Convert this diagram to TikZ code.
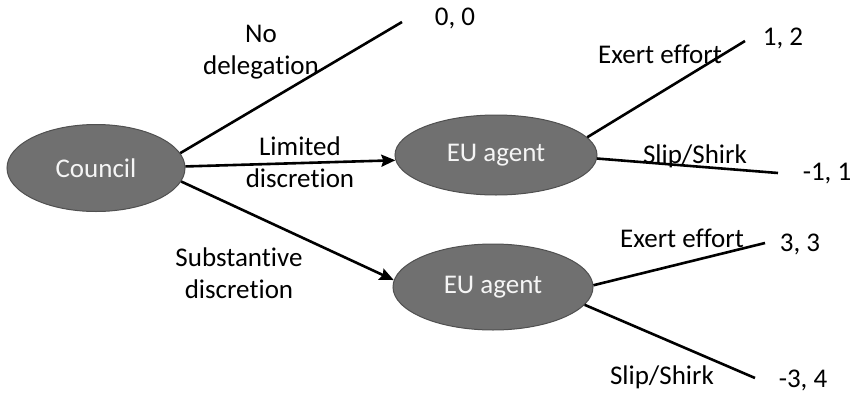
\documentclass[tikz,border=0pt]{standalone}
\usepackage{fontspec}
\setmainfont{Carlito}[Ligatures=NoCommon]
\usetikzlibrary{shapes.geometric,arrows.meta}
\definecolor{nodefill}{RGB}{112,112,112}
\definecolor{nodeline}{RGB}{80,80,80}
\definecolor{nodetext}{RGB}{245,245,245}
\begin{document}
\begin{tikzpicture}[x=1pt,y=-1pt,
  player/.style={ellipse,draw=nodeline,fill=nodefill,line width=1pt,inner sep=0pt,
    text=nodetext,font=\fontsize{27}{32}\selectfont},
  lbl/.style={align=center,inner sep=0pt,font=\fontsize{27}{32}\selectfont,text=black},
  branch/.style={line width=2.6pt,draw=black},
  move/.style={branch,-{Stealth[length=14pt,width=12pt,inset=2pt]}}]
\useasboundingbox[fill=white] (0,0) rectangle (855,394);
% players
\node[player,minimum width=178pt,minimum height=87pt] (council) at (96,168) {Council};
\node[player,minimum width=202pt,minimum height=80pt] (eu1) at (496,155) {EU agent};
\node[player,minimum width=200pt,minimum height=86pt] (eu2) at (493,287) {EU agent};
% terminal points
\coordinate (nd) at (402,22);
\coordinate (e1) at (745,41);
\coordinate (s1) at (778,173);
\coordinate (e2) at (765,243);
\coordinate (s2) at (755,378);
% branches
\draw[branch] (council.10) -- (nd);
\draw[move] (council.1) -- (eu1.183);
\draw[move] (council.-9) -- (eu2.176);
\draw[branch] (eu1.11) -- (e1);
\draw[branch] (eu1.-2) -- (s1);
\draw[branch] (eu2.1) -- (e2);
\draw[branch] (eu2.-11) -- (s2);
% move labels
\node[lbl] (lnd) at (261,52) {No\\delegation};
\node[lbl] (llim) at (300,162) {Limited\\discretion};
\node[lbl] (lsub) at (239,273) {Substantive\\discretion};
\node[lbl] (le1) at (660,54) {Exert effort};
\node[lbl] (ls1) at (695,156) {Slip/Shirk};
\node[lbl] (le2) at (682,238) {Exert effort};
\node[lbl] (ls2) at (662,377) {Slip/Shirk};
% payoffs
\node[lbl] (p0) at (455,18) {0, 0};
\node[lbl] (p1) at (783,38) {1, 2};
\node[lbl] (p2) at (827,174) {-1, 1};
\node[lbl] (p3) at (800,244) {3, 3};
\node[lbl] (p4) at (803,380) {-3, 4};
\end{tikzpicture}
\end{document}
